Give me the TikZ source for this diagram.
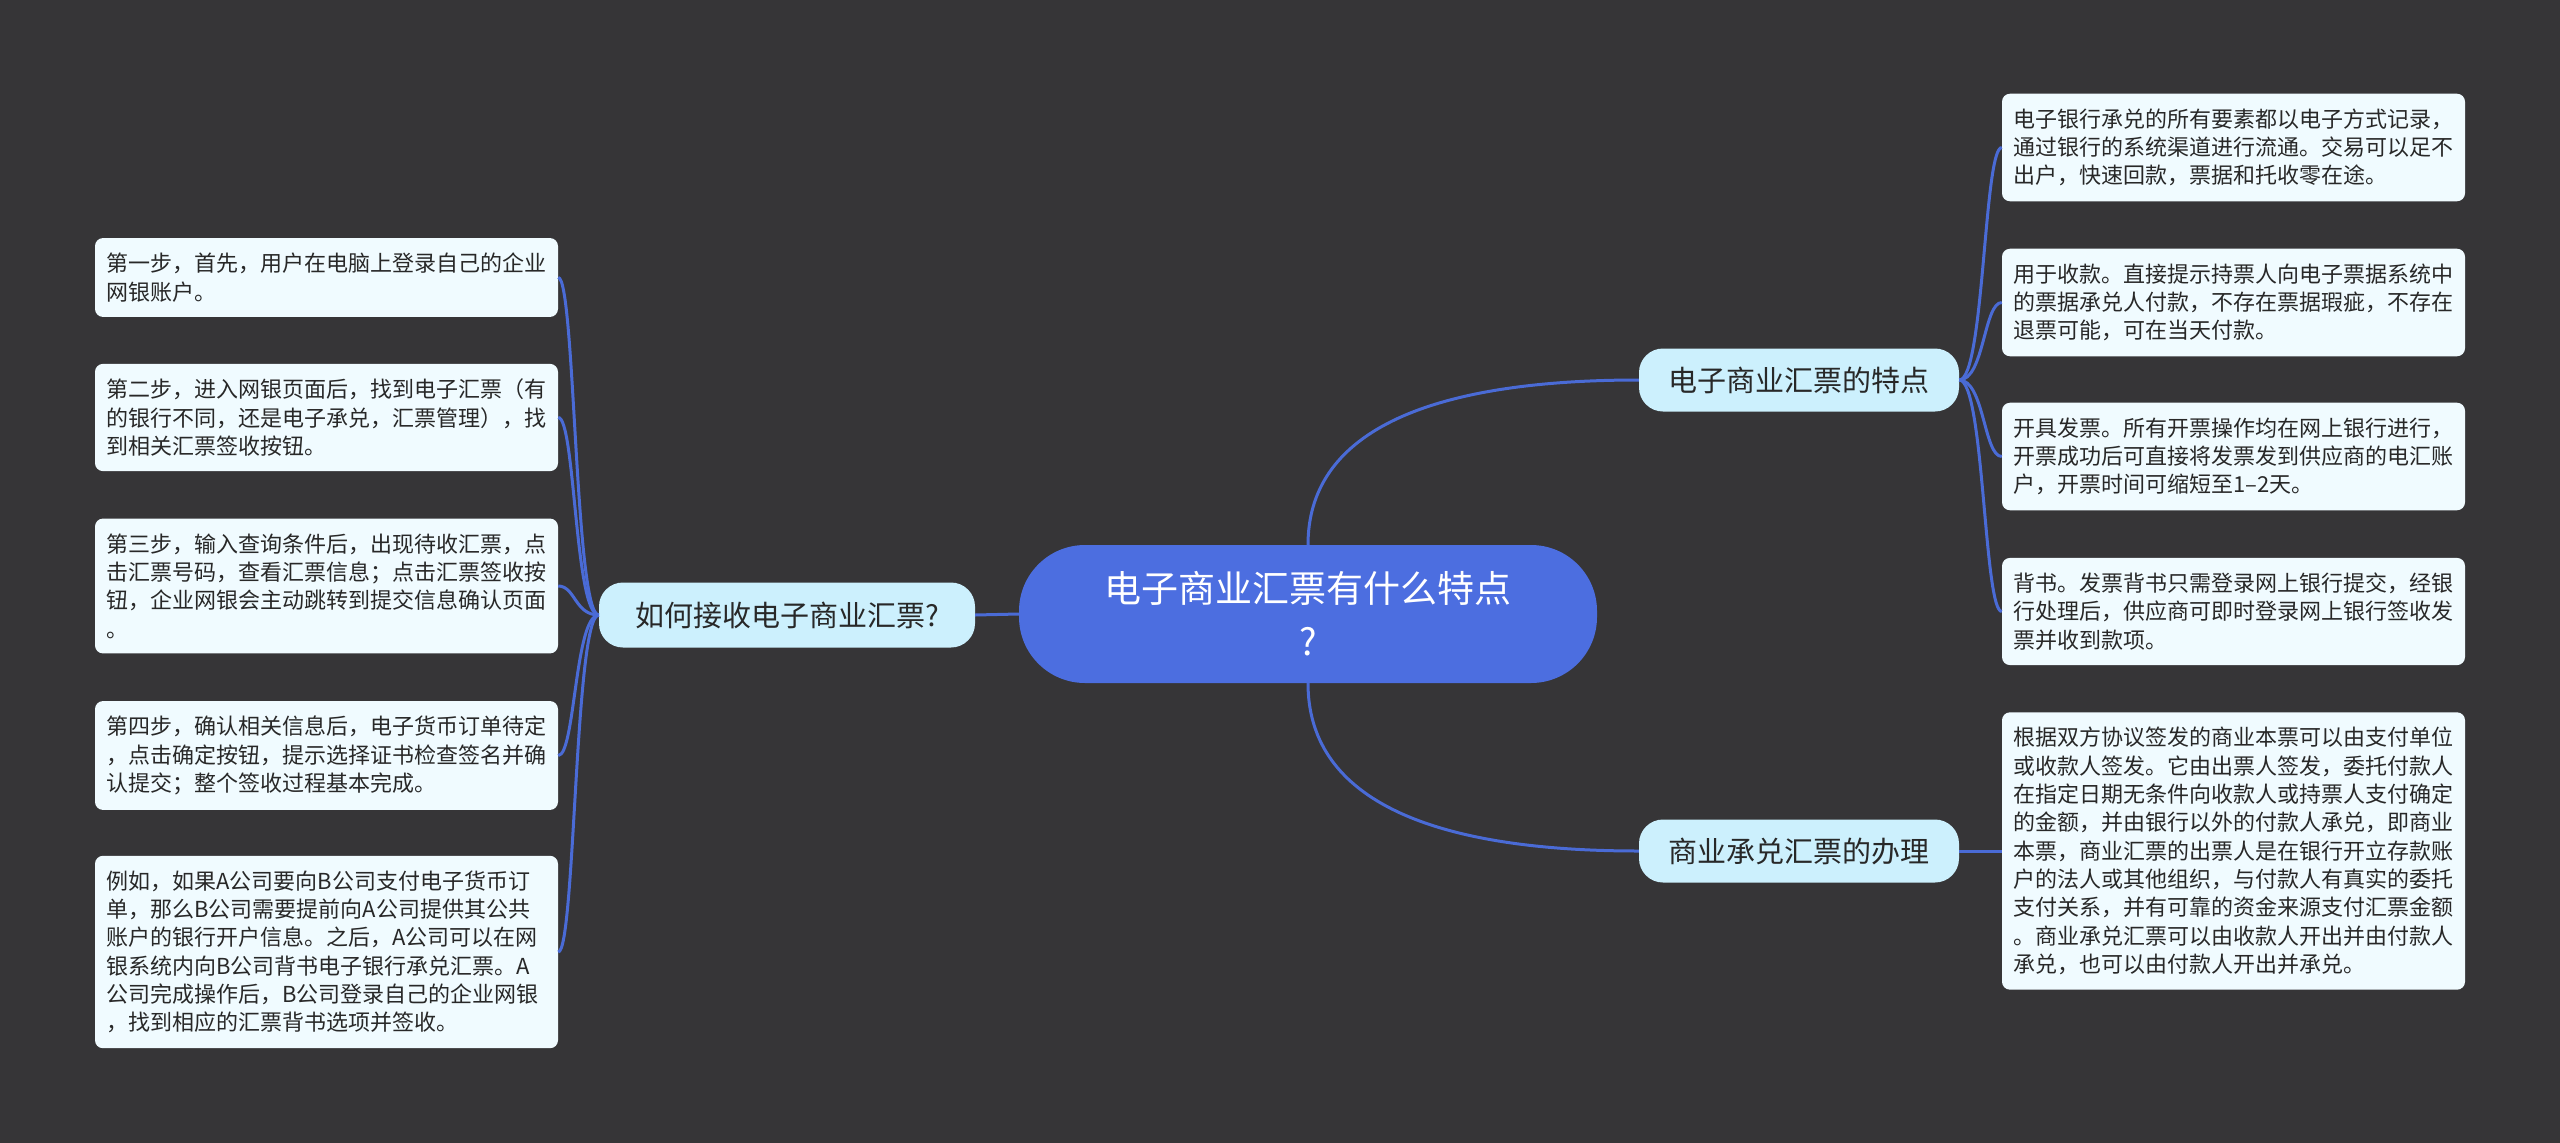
\documentclass[tikz,border=0pt]{standalone}
\usepackage{fontspec}
\setmainfont{Noto Sans CJK SC}
\definecolor{bgc}{RGB}{54,53,55}
\definecolor{rootf}{RGB}{76,110,224}
\definecolor{midf}{RGB}{204,240,253}
\definecolor{leaff}{RGB}{240,251,255}
\definecolor{linec}{RGB}{74,107,214}
\definecolor{txt}{RGB}{40,40,40}
\begin{document}
\begin{tikzpicture}[x=1pt,y=-1pt,
  conn/.style={draw=linec, line width=3pt},
  leaf/.style={fill=leaff, text=txt, rounded corners=8pt, text width=440pt, align=left,
    inner xsep=11.5pt, inner ysep=15pt, font=\fontsize{22}{28.3}\selectfont},
  mid/.style={fill=midf, text=txt, rounded corners=24pt, inner sep=0pt,
    font=\fontsize{29}{34}\selectfont},
  root/.style={fill=rootf, text=white, rounded corners=66pt, inner sep=0pt, align=center,
    font=\fontsize{37}{53}\selectfont, minimum width=578pt, minimum height=138pt}]
\fill[bgc] (0,0) rectangle (2560,1143);
\useasboundingbox (0,0) rectangle (2560,1143);

\node[root] (c) at (1308,614) {电子商业汇票有什么特点\\?};
\node[mid, minimum width=376pt, minimum height=65pt] (lb) at (787,615) {如何接收电子商业汇票?};
\node[mid, minimum width=320pt, minimum height=63pt] (r1) at (1799,380) {电子商业汇票的特点};
\node[mid, minimum width=320pt, minimum height=63pt] (r2) at (1799,851) {商业承兑汇票的办理};

\node[leaf] (l1) at (326.5,277.5) {第一步，首先，用户在电脑上登录自己的企业\\网银账户。};
\node[leaf] (l2) at (326.5,417.5) {第二步，进入网银页面后，找到电子汇票（有\\的银行不同，还是电子承兑，汇票管理），找\\到相关汇票签收按钮。};
\node[leaf] (l3) at (326.5,586) {第三步，输入查询条件后，出现待收汇票，点\\击汇票号码，查看汇票信息；点击汇票签收按\\钮，企业网银会主动跳转到提交信息确认页面\\。};
\node[leaf] (l4) at (326.5,755.5) {第四步，确认相关信息后，电子货币订单待定\\，点击确定按钮，提示选择证书检查签名并确\\认提交；整个签收过程基本完成。};
\node[leaf] (l5) at (326.5,952) {例如，如果A公司要向B公司支付电子货币订\\单，那么B公司需要提前向A公司提供其公共\\账户的银行开户信息。之后，A公司可以在网\\银系统内向B公司背书电子银行承兑汇票。A\\公司完成操作后，B公司登录自己的企业网银\\，找到相应的汇票背书选项并签收。};

\node[leaf] (t1) at (2233.5,147.5) {电子银行承兑的所有要素都以电子方式记录，\\通过银行的系统渠道进行流通。交易可以足不\\出户，快速回款，票据和托收零在途。};
\node[leaf] (t2) at (2233.5,302.5) {用于收款。直接提示持票人向电子票据系统中\\的票据承兑人付款，不存在票据瑕疵，不存在\\退票可能，可在当天付款。};
\node[leaf] (t3) at (2233.5,456.5) {开具发票。所有开票操作均在网上银行进行，\\开票成功后可直接将发票发到供应商的电汇账\\户，开票时间可缩短至1–2天。};
\node[leaf] (t4) at (2233.5,611.5) {背书。发票背书只需登录网上银行提交，经银\\行处理后，供应商可即时登录网上银行签收发\\票并收到款项。};
\node[leaf] (t5) at (2233.5,851) {根据双方协议签发的商业本票可以由支付单位\\或收款人签发。它由出票人签发，委托付款人\\在指定日期无条件向收款人或持票人支付确定\\的金额，并由银行以外的付款人承兑，即商业\\本票，商业汇票的出票人是在银行开立存款账\\户的法人或其他组织，与付款人有真实的委托\\支付关系，并有可靠的资金来源支付汇票金额\\。商业承兑汇票可以由收款人开出并由付款人\\承兑，也可以由付款人开出并承兑。};

\draw[conn] (c.west) -- (lb.east);
\draw[conn] (c.north) .. controls +(0,-110) and +(-217,0) .. (r1.west);
\draw[conn] (c.south) .. controls +(0,112) and +(-217,0) .. (r2.west);

\foreach \n in {l1,l2,l3,l4,l5}
  \draw[conn] (lb.west) .. controls +(-24,0) and +(17,0) .. (\n.east);
\foreach \n in {t1,t2,t3,t4}
  \draw[conn] (r1.east) .. controls +(25,0) and +(-18,0) .. (\n.west);
\draw[conn] (r2.east) -- (t5.west);
\end{tikzpicture}
\end{document}
